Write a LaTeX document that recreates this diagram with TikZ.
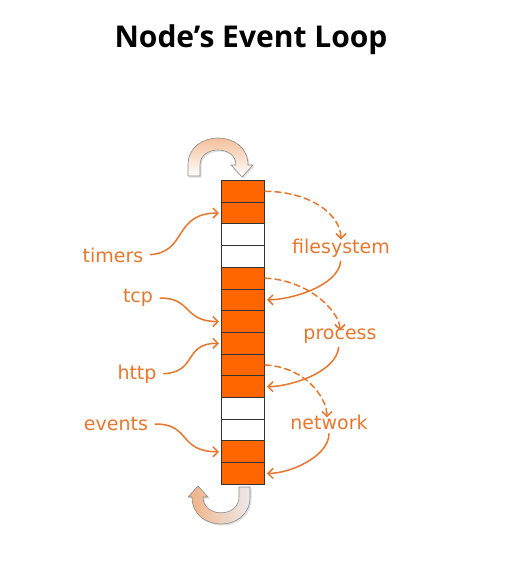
\documentclass[tikz,border=0pt]{standalone}
\usepackage{fontspec}
\setmainfont{DejaVu Sans}
\newfontfamily\titlefont{Open Sans}
\usetikzlibrary{arrows.meta,shadows}
\definecolor{cellor}{HTML}{FF6600}
\definecolor{annot}{HTML}{E8772E}
\definecolor{peach}{HTML}{F2B183}
\begin{document}
\begin{tikzpicture}[x=1pt,y=-1pt,
  cellbox/.style={draw=black!80,line width=1pt,minimum width=43pt,minimum height=21.7pt,inner sep=0pt,anchor=north west},
  lbl/.style={text=annot,font=\fontsize{19}{21}\selectfont,inner sep=1pt},
  solidarr/.style={draw=annot,line width=1.5pt,-{Straight Barb[length=5pt,width=10pt]},line cap=round,shorten >=2pt},
  dasharr/.style={draw=annot,line width=1.5pt,dashed,dash pattern=on 6pt off 4pt,-{Straight Barb[length=5pt,width=10pt]},line cap=round},
  rot/.style={draw=black!45,line width=0.6pt,drop shadow={opacity=0.25,shadow xshift=1.5pt,shadow yshift=-1.5pt}}
]
\useasboundingbox (0,0) rectangle (509,566);
\fill[white] (0,0) rectangle (509,566);
% title
\node (title) at (251,40) {\titlefont\bfseries\fontsize{30}{34}\selectfont Node’s Event Loop};
% cells
\foreach \i/\c in {1/cellor,2/cellor,3/white,4/white,5/cellor,6/cellor,7/cellor,8/cellor,9/cellor,10/cellor,11/white,12/white,13/cellor,14/cellor}{
  \node[cellbox,fill=\c] (c\i) at (221,{180+21.7*(\i-1)}) {};
}
% labels
\node[lbl] (timers) at (113,255) {timers};
\node[lbl] (tcp) at (138,298) {tcp};
\node[lbl] (http) at (137,374) {http};
\node[lbl] (events) at (116,424) {events};
\node[lbl] (filesystem) at (341,248) {filesystem};
\node[lbl] (process) at (340,336) {process};
\node[lbl] (network) at (329,422) {network};
% left arrows
\draw[solidarr,shorten <=6pt] (timers.east) .. controls +(43,-3) and +(-48,0) .. (c2.west);
\draw[solidarr,shorten <=6pt] (tcp.east) .. controls +(38,0) and +(-38,0) .. (c7.west);
\draw[solidarr,shorten <=6pt] (http.east) .. controls +(40,-2) and +(-38,0) .. (c8.west);
\draw[solidarr,shorten <=6pt] (events.east) .. controls +(42,0) and +(-43,0) .. (c13.west);
% right dashed
\draw[dasharr] (c1.east) .. controls +(45,0) and +(0,-25) .. ([yshift=-2pt]filesystem.north);
\draw[dasharr] (c5.east) .. controls +(45,2) and +(0,-18) .. ([yshift=-3pt]process.north);
\draw[dasharr] (c9.east) .. controls +(40,2) and +(0,-20) .. ([xshift=-2pt,yshift=-4pt]network.north);
% right solid
\draw[solidarr,shorten <=3pt] (filesystem.south) .. controls +(-3,28) and +(25,0) .. (c6.east);
\draw[solidarr,shorten <=3pt] ([xshift=-1pt]process.south) .. controls +(-3,28) and +(25,0) .. (c10.east);
\draw[solidarr,shorten <=3pt] (network.south) .. controls +(0,26) and +(25,0) .. (c14.east);
% rotating arrows
\path[rot,top color=peach,bottom color=white]
  (188,176) -- (188,165) .. controls (188,129) and (248,129) .. (248,165)
  -- (253,165) -- (242,177) -- (231,165) -- (236,165)
  .. controls (236,145) and (200,145) .. (200,165) -- (200,176) -- cycle;
\path[rot,left color=peach,right color=black!8]
  (250,487) -- (250,497) .. controls (250,533) and (192,533) .. (192,497)
  -- (188,497) -- (198,486) -- (208,497) -- (203,497)
  .. controls (203,518) and (239,518) .. (239,497) -- (239,487) -- cycle;
\end{tikzpicture}
\end{document}
